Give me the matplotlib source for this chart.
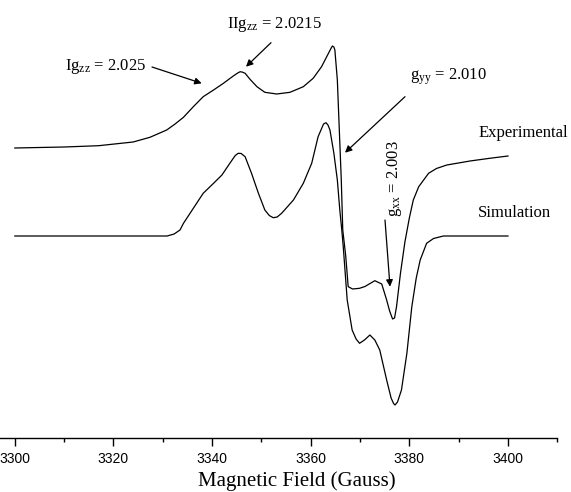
import matplotlib
matplotlib.use("Agg")
import matplotlib.pyplot as plt
from matplotlib.ticker import MultipleLocator

plt.rcParams['mathtext.fontset'] = 'custom'
plt.rcParams['mathtext.rm'] = 'Liberation Serif'
plt.rcParams['mathtext.it'] = 'Liberation Serif'

# ---- data ----
exp_field = [3300.0, 3310.0, 3317.0, 3324.0, 3327.4, 3330.8, 3332.5, 3334.2, 3336.2,
             3338.2, 3340.3, 3342.3, 3344.3, 3345.2, 3345.7, 3346.2, 3346.7, 3347.7,
             3349.1, 3350.7, 3353.1, 3355.8, 3358.5, 3360.5, 3362.2, 3363.6, 3364.1,
             3364.4, 3364.7, 3364.9, 3365.4, 3365.8, 3366.2, 3366.5, 3367.1, 3367.6,
             3368.5, 3369.9, 3371.0, 3373.0, 3374.4, 3375.4, 3376.0, 3376.6, 3377.0,
             3377.4, 3378.2, 3379.1, 3380.0, 3380.8, 3381.9, 3383.9, 3385.5, 3387.6,
             3392.3, 3396.3, 3400.0]
exp_signal = [88, 89, 90.3, 94, 98.7, 106, 112, 118.7, 129.3,
              139.3, 146, 152.7, 160, 163, 164.3, 163.8, 162.7, 156.7,
              149.3, 143.7, 142, 143.7, 149.3, 157.7, 169.3, 182.7, 187.5,
              190, 189, 186, 156, 106, 56, 6, -20, -50.7,
              -53, -52.3, -50.5, -44.7, -48, -64, -75, -83, -82,
              -70.7, -37.3, -6, 18, 36, 49.3, 62.7, 67.5, 71,
              75, 77.7, 80]

sim_field = [3300.0, 3330.9, 3332.3, 3333.5, 3334.2, 3336.2, 3338.2, 3340.3, 3342.0,
             3343.6, 3344.7, 3345.3, 3345.9, 3346.7, 3348.0, 3349.4, 3350.7, 3351.6,
             3352.4, 3353.2, 3354.1, 3356.5, 3358.5, 3360.2, 3361.5, 3362.6, 3363.1,
             3363.5, 3363.9, 3364.7, 3365.4, 3365.9, 3366.3, 3366.6, 3367.4, 3368.4,
             3369.2, 3369.9, 3370.9, 3372.0, 3373.0, 3374.0, 3375.4, 3376.3, 3376.8,
             3377.1, 3377.6, 3378.4, 3379.5, 3380.5, 3381.4, 3382.2, 3383.5, 3384.9,
             3386.9, 3400.0]
sim_signal = [0, 0, 2, 6, 12.7, 27.7, 42.7, 52.7, 61,
              72.7, 80.5, 82.7, 82.5, 79.3, 62.7, 42.7, 26, 20.5,
              18.3, 19, 22.7, 36, 52.7, 72.7, 99.3, 112, 113.3,
              111, 106, 82.7, 56, 26, 6, -10.7, -64, -94,
              -103, -107.3, -104, -99, -104, -114, -144, -162, -167.5,
              -169, -166, -154, -117.3, -70.7, -42, -24, -7.3, -2.5,
              0, 0]

xticks = [3300, 3320, 3340, 3360, 3380, 3400]

W, H = 571, 492
fig = plt.figure(figsize=(W / 100, H / 100), dpi=100)
ax = fig.add_axes([0.0, 1 - 438 / H, 557.3 / W, 438 / H])

ax.plot(exp_field, exp_signal, color='black', lw=0.9)
ax.plot(sim_field, sim_signal, color='black', lw=0.9)

ax.set_xlim(3297.0, 3410.0)
ax.set_ylim(-202, 236)
ax.set_xticks(xticks)
ax.xaxis.set_minor_locator(MultipleLocator(10))
ax.set_yticks([])
for s in ['top', 'left', 'right']:
    ax.spines[s].set_visible(False)
ax.spines['bottom'].set_linewidth(1.0)
ax.tick_params(axis='x', which='major', direction='out', length=5.5, width=1.0,
               pad=4.5, labelsize=10)
ax.tick_params(axis='x', which='minor', direction='out', length=3, width=1.0)
for lab in ax.get_xticklabels():
    lab.set_fontfamily('Liberation Sans')
ax.set_xlabel('Magnetic Field (Gauss)', family='Liberation Serif', fontsize=15)
ax.xaxis.set_label_coords(297 / 557.3, -33 / 438)

def fp(x, y):
    return (x / W, 1 - y / H)

serif = dict(family='Liberation Serif', fontsize=12, color='black')
arrow = dict(arrowstyle='-|>', color='black', lw=0.9, mutation_scale=10,
             shrinkA=0, shrinkB=0)

fig.text(*fp(65, 66), r'Ig$_{\rm zz}$ = 2.025', ha='left', va='center', **serif)
ax.annotate('', xy=fp(201.7, 83.3), xycoords='figure fraction',
            xytext=fp(152, 67), textcoords='figure fraction', arrowprops=arrow)

fig.text(*fp(226.7, 25), r'IIg$_{\rm zz}$ = 2.0215', ha='left', va='center', **serif)
ax.annotate('', xy=fp(246, 66.7), xycoords='figure fraction',
            xytext=fp(271, 42.7), textcoords='figure fraction', arrowprops=arrow)

fig.text(*fp(410, 77), r'g$_{\rm yy}$ = 2.010', ha='left', va='center', **serif)
ax.annotate('', xy=fp(345, 152.7), xycoords='figure fraction',
            xytext=fp(405, 96.7), textcoords='figure fraction', arrowprops=arrow)

fig.text(*fp(395, 179), r'g$_{\rm xx}$ = 2.003', ha='center', va='center',
         rotation=90, **serif)
ax.annotate('', xy=fp(390, 286.7), xycoords='figure fraction',
            xytext=fp(385, 220), textcoords='figure fraction', arrowprops=arrow)

fig.text(*fp(479, 132.7), 'Experimental', ha='left', va='center', **serif)
fig.text(*fp(477.7, 213.3), 'Simulation', ha='left', va='center', **serif)

fig.savefig('out.png', dpi=100)
